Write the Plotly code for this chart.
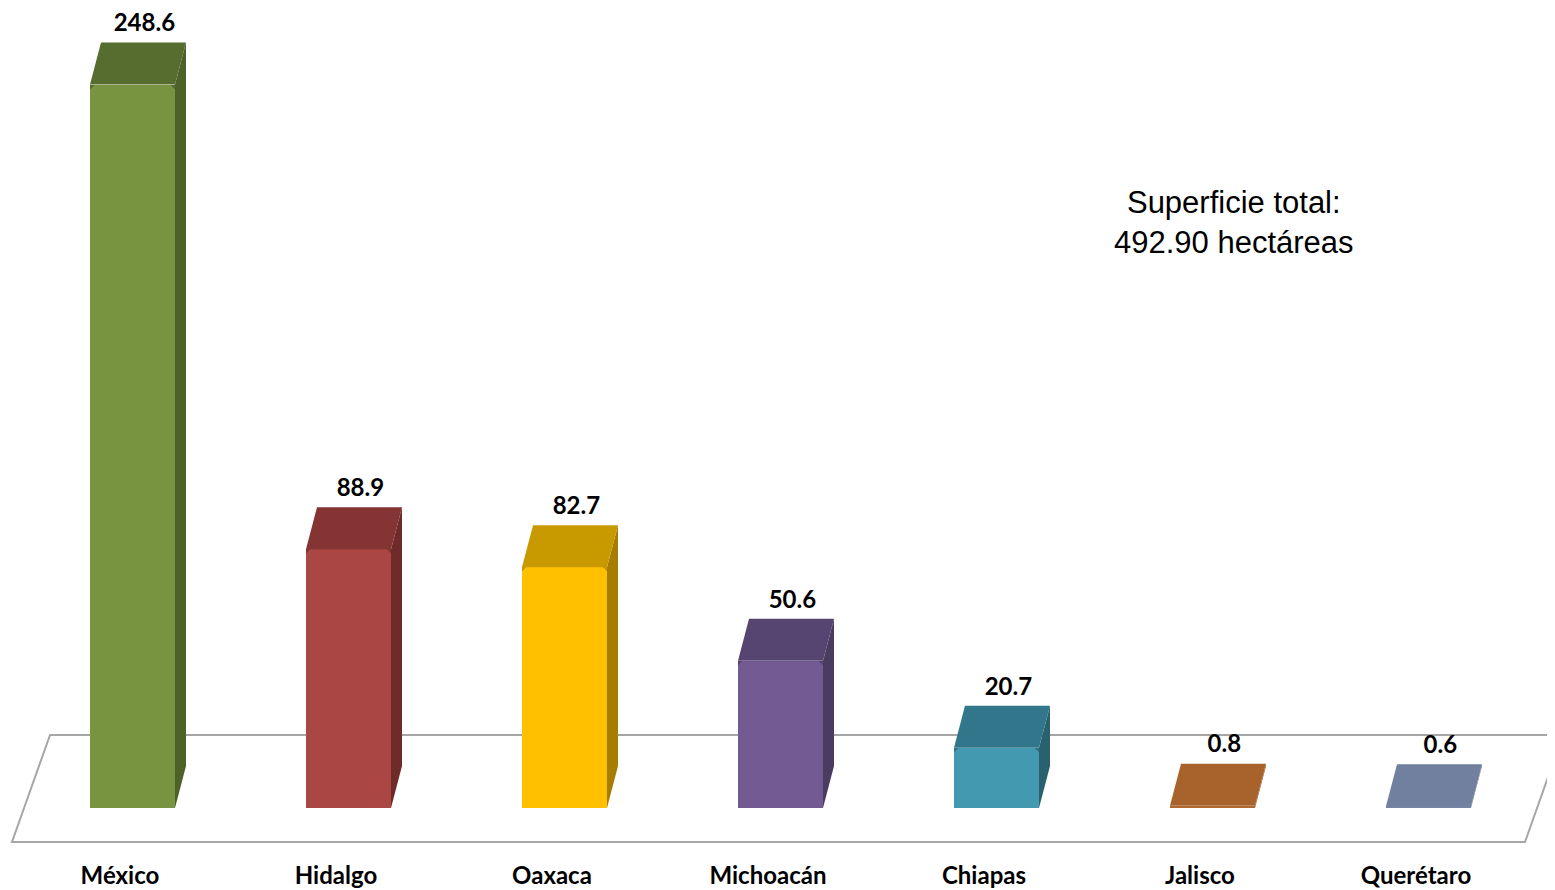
import plotly.graph_objects as go

# ---- data ----
estados = ["México", "Hidalgo", "Oaxaca", "Michoacán", "Chiapas", "Jalisco", "Querétaro"]
superficie = [248.6, 88.9, 82.7, 50.6, 20.7, 0.8, 0.6]
etiquetas = ["248.6", "88.9", "82.7", "50.6", "20.7", "0.8", "0.6"]
total_texto = "Superficie total:<br>492.90 hectáreas"

# ---- styles ----
front_colors = ["#789440", "#AA4643", "#FFC000", "#735A92", "#4299B0", "#B0682F", "#7584A3"]
top_colors = ["#566D2F", "#833433", "#C89A00", "#574571", "#31768A", "#A8632D", "#70809E"]
side_colors = ["#4E6128", "#6E2B2A", "#A67D00", "#4A3B61", "#29616F", "#8A5024", "#5E6B85"]

OFF = 8                     # page body margin
W, H = 1555 - OFF, 890 - OFF
PX_PER_CAT = 216.0
X0_PX = 132.5 - OFF         # pixel of first category front-face centre
PX_PER_UNIT = 2.91          # vertical scale
BASE_PX = 808.0 - OFF       # pixel row of value 0
B_MARGIN = 45

bar_w = 85.0 / PX_PER_CAT        # front face width (category units)
dx = 11.0 / PX_PER_CAT           # depth offset in x
dy = 42.0 / PX_PER_UNIT          # depth offset in y
CR_PX = 7
cr = CR_PX / PX_PER_UNIT

x_range = [-X0_PX / PX_PER_CAT, (W - X0_PX) / PX_PER_CAT]
plot_bottom = H - B_MARGIN
y_range = [-(plot_bottom - BASE_PX) / PX_PER_UNIT, BASE_PX / PX_PER_UNIT]

xs = list(range(len(estados)))

fig = go.Figure()

# corner fill behind the rounded front faces (top colour)
fig.add_trace(go.Bar(
    x=xs, y=[min(cr, v) for v in superficie],
    base=[max(v - cr, 0) for v in superficie], width=bar_w,
    marker=dict(color=top_colors, line=dict(width=0)),
    showlegend=False, hoverinfo="skip",
))
# front faces
fig.add_trace(go.Bar(
    x=xs, y=superficie, width=bar_w,
    marker=dict(color=front_colors, line=dict(width=0), cornerradius=CR_PX),
    showlegend=False, hoverinfo="skip",
))

# top and side faces (derived from the data values)
for i, v in enumerate(superficie):
    xl, xr = i - bar_w / 2, i + bar_w / 2
    fig.add_trace(go.Scatter(
        x=[xr, xr, xr + dx, xr + dx, xr],
        y=[0, v, v + dy, dy, 0],
        fill="toself", fillcolor=side_colors[i], mode="lines",
        line=dict(width=0, color=side_colors[i]), showlegend=False, hoverinfo="skip",
    ))
    fig.add_trace(go.Scatter(
        x=[xl, xr, xr + dx, xl + dx, xl],
        y=[v, v, v + dy, v + dy, v],
        fill="toself", fillcolor=top_colors[i], mode="lines",
        line=dict(width=0, color=top_colors[i]), showlegend=False, hoverinfo="skip",
    ))

# value labels
fig.add_trace(go.Scatter(
    x=[i + 0.055 for i in xs], y=[v + dy + 1.8 for v in superficie],
    mode="text", text=etiquetas, textposition="top center",
    textfont=dict(family="Lato", size=24, color="#000000", weight="bold"),
    showlegend=False, hoverinfo="skip", cliponaxis=False,
))

# floor (decorative parallelogram), reference pixel corners
def px_to_x(p):
    return (p - OFF - X0_PX) / PX_PER_CAT

def px_to_y(p):
    return (BASE_PX - (p - OFF)) / PX_PER_UNIT

floor = [(50, 735), (12, 842), (1525, 842), (1563, 735)]
path = "M " + " L ".join(f"{px_to_x(a):.4f},{px_to_y(b):.4f}" for a, b in floor) + " Z"
fig.add_shape(type="path", path=path, xref="x", yref="y", layer="below",
              line=dict(color="#A6A6A6", width=2), fillcolor="rgba(0,0,0,0)")

fig.add_annotation(
    x=px_to_x(1234), y=px_to_y(222), xref="x", yref="y", text=total_texto, showarrow=False,
    xanchor="center", yanchor="middle",
    font=dict(family="Liberation Sans", size=31, color="#000000"), align="center",
)

fig.update_layout(
    width=W, height=H,
    margin=dict(l=0, r=0, t=0, b=B_MARGIN),
    paper_bgcolor="white", plot_bgcolor="white",
    barmode="overlay", bargap=0,
    xaxis=dict(range=x_range, showgrid=False, zeroline=False, showline=False,
               tickvals=[i - 0.058 for i in xs], ticktext=estados, ticks="",
               ticklabelstandoff=14,
               tickfont=dict(family="Lato", size=24, color="#000000", weight="bold")),
    yaxis=dict(range=y_range, showgrid=False, zeroline=False, showline=False,
               showticklabels=False, ticks=""),
)

fig.write_html("out.html")
